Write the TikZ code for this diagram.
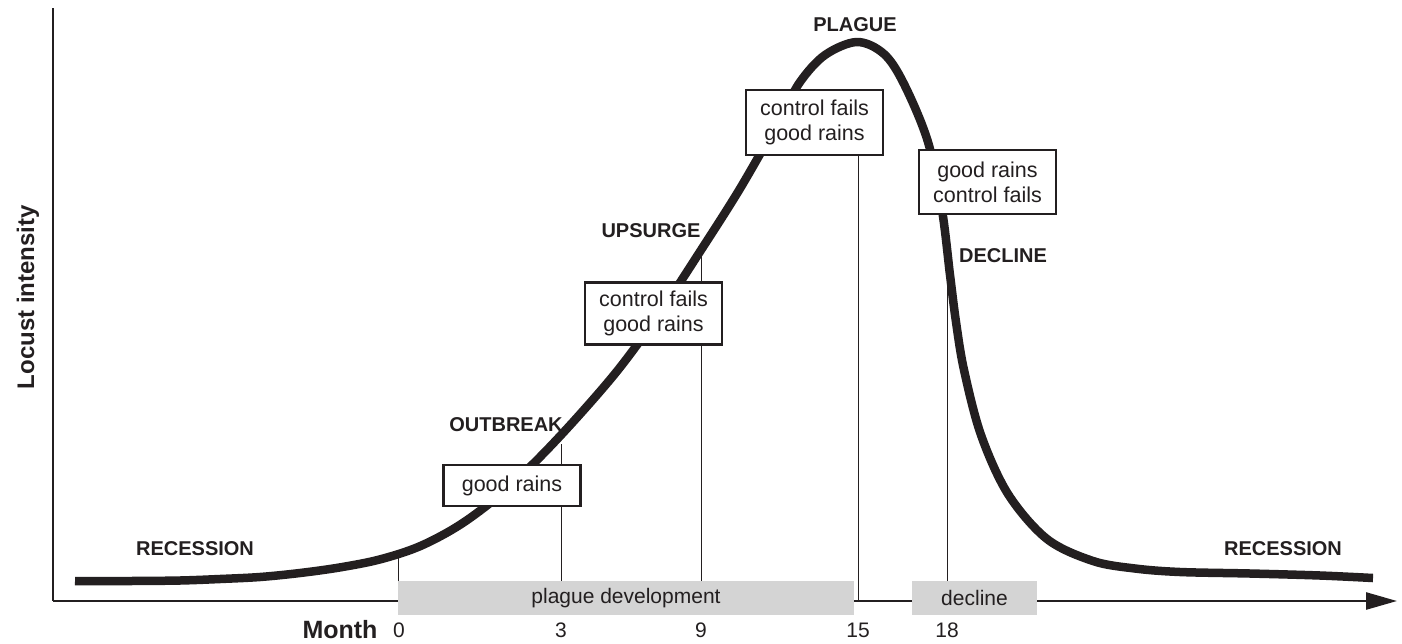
\documentclass[tikz,border=0pt]{standalone}
\usepackage{fontspec}
\setmainfont{Liberation Sans}
\usetikzlibrary{arrows.meta}
\definecolor{ink}{HTML}{231F20}
\begin{document}
\begin{tikzpicture}[x=1pt,y=-1pt,
  curve/.style={line width=8.5pt,line join=round,draw=ink},
  axis/.style={line width=2.6pt,draw=ink},
  guide/.style={line width=0.9pt,draw=ink},
  condbox/.style={draw=ink,line width=2.2pt,fill=white,inner sep=0pt,minimum width=137pt,align=center,text=ink,font=\fontsize{21.5}{25}\selectfont},
  phase/.style={font=\bfseries\fontsize{20}{22}\selectfont,text=ink},
  bar/.style={fill=black!17,minimum height=34pt,inner sep=0pt,font=\fontsize{21}{24}\selectfont,text=ink},
  tick/.style={font=\fontsize{21}{24}\selectfont,text=ink}]
\useasboundingbox (0,0) rectangle (1402,643);
% axes
\coordinate (origin) at (53,601);
\coordinate (ytop) at (53,8);
\coordinate (xend) at (1397,601);
\draw[axis] (ytop) -- (origin);
\draw[axis,-{Triangle[length=31pt,width=17pt]},fill=ink] (origin) -- (xend);
% guide lines
\coordinate (g0t) at (398,553); \coordinate (g0b) at (398,601);
\coordinate (g3t) at (561,444); \coordinate (g3b) at (561,581);
\coordinate (g9t) at (701,254); \coordinate (g9b) at (701,581);
\coordinate (g15t) at (858,155); \coordinate (g15b) at (858,601);
\coordinate (g18t) at (947,275); \coordinate (g18b) at (947,581);
\foreach \a/\b in {g0t/g0b,g3t/g3b,g9t/g9b,g15t/g15b,g18t/g18b} \draw[guide] (\a) -- (\b);
% bars
\node[bar,minimum width=456pt] (dev) at (626,598) {plague development};
\node[bar,minimum width=125pt] (dec) at (974.5,598) {decline};
% curve
\draw[curve] plot[smooth,tension=0.55] coordinates {
 (75,581) (130,581) (180,580.5) (220,579) (260,577) (300,573) (340,567.4)
 (380,559.4) (420,546.2) (460,524.8) (500,494.8) (540,457) (580,414.2)
 (620,367.4) (660,312.6) (700,251.6) (740,188.6) (780,118.6) (800,82)
 (825,55) (857,42) (884,54) (904,84) (928,142) (942,210) (950,275) (956,322)
 (964,370) (981,435) (1008,494) (1047,539) (1093,561) (1135,568.5) (1180,572)
 (1250,573.5) (1320,575.5) (1373,578)};
% condition boxes
\node[condbox,minimum height=41pt] (b1) at (512,485.5) {good rains};
\node[condbox,minimum height=62pt] (b2) at (653.5,313.5) {control fails\\good rains};
\node[condbox,minimum height=65pt] (b3) at (814.5,122.5) {control fails\\good rains};
\node[condbox,minimum height=64pt] (b4) at (987.5,182) {good rains\\control fails};
% phase labels
\node[phase] (rec1) at (195,549) {RECESSION};
\node[phase] (out) at (506,425) {OUTBREAK};
\node[phase] (up) at (651,231) {UPSURGE};
\node[phase] (pl) at (855,25) {PLAGUE};
\node[phase] (decl) at (1003,256) {DECLINE};
\node[phase] (rec2) at (1283,549) {RECESSION};
% axis labels
\node[font=\bfseries\fontsize{24}{26}\selectfont,rotate=90,text=ink] (ylab) at (28,297) {Locust intensity};
\node[font=\bfseries\fontsize{25}{26}\selectfont,text=ink] (xlab) at (340,630) {Month};
\node[tick] (t0) at (399,630) {0};
\node[tick] (t3) at (561,630) {3};
\node[tick] (t9) at (701,630) {9};
\node[tick] (t15) at (858,630) {15};
\node[tick] (t18) at (947,630) {18};
\end{tikzpicture}
\end{document}
